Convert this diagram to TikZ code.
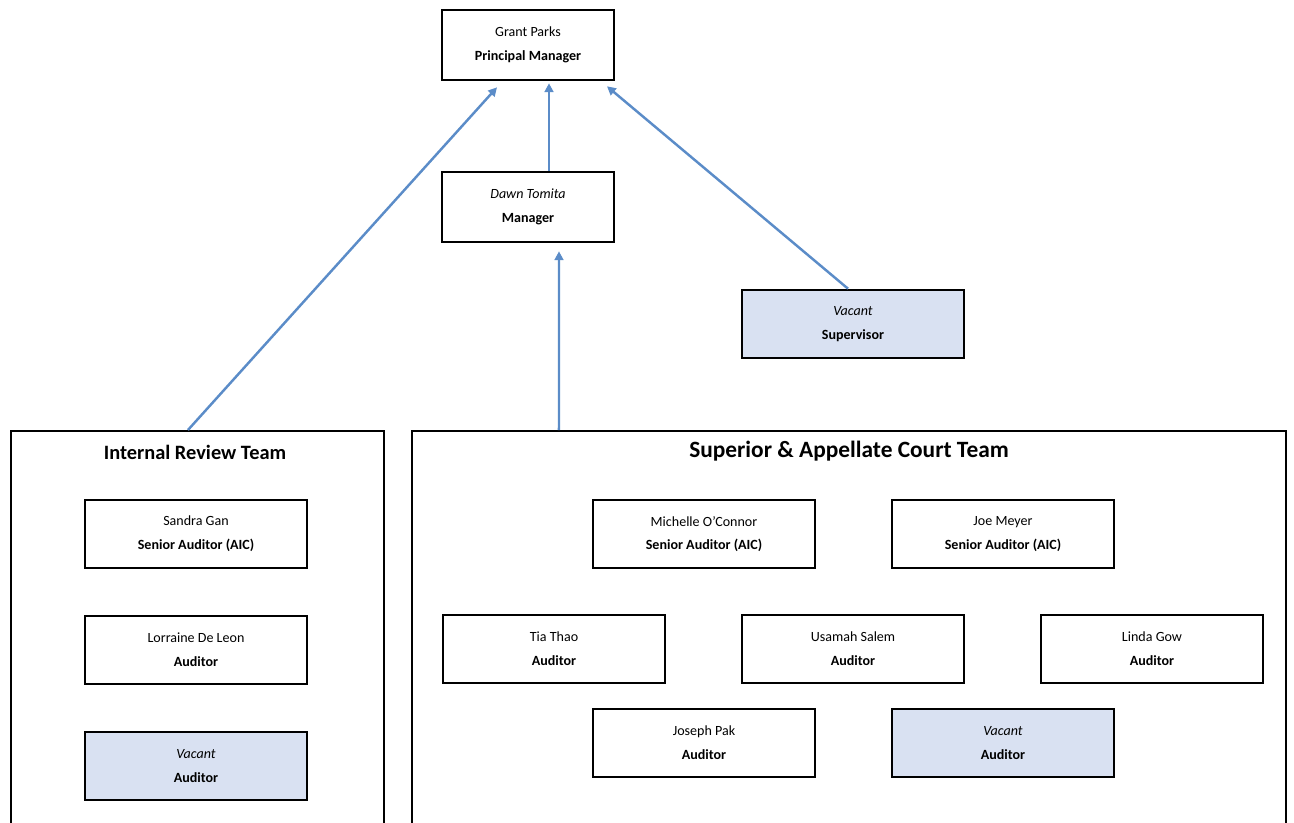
\documentclass[tikz,border=0pt]{standalone}
\usepackage{fontspec}
\setmainfont{Carlito}
\usepackage{tikz}
\usetikzlibrary{arrows.meta,positioning}

\definecolor{linkblue}{HTML}{5B8CC8}
\definecolor{vacantfill}{HTML}{D9E1F2}

\begin{document}
\begin{tikzpicture}[x=0.02cm, y=-0.02cm]
                \tikzstyle{post} = [rectangle, draw, line width=1.5pt, fill=white,
                align=center, minimum width=4.44cm, minimum height=1.36cm,
                font=\fontsize{8}{13.5}\selectfont]
                \tikzstyle{toppost} = [post, minimum width=3.44cm, minimum height=1.4cm]
                \tikzstyle{vacant} = [fill=vacantfill]
                \tikzstyle{team} = [rectangle, draw, line width=1.3pt, anchor=north west]
                \tikzstyle{teamtitle} = [font=\bfseries]
                \tikzstyle{link} = [linkblue, line width=1.4pt, -{Triangle[length=5pt,width=5pt]}]

                \useasboundingbox (0,0) rectangle (1294,822);

                % leadership
                \node [toppost] (principal) at (528,45) {Grant Parks\\\textbf{Principal Manager}};
                \node [toppost] (manager) at (528,207) {\textit{Dawn Tomita}\\\textbf{Manager}};
                \node [post, vacant] (supervisor) at (853,324) {\textit{Vacant}\\\textbf{Supervisor}};

                % teams
                \node [team, minimum width=7.46cm, minimum height=8.4cm] (review) at (10,430) {};
                \node [team, minimum width=17.48cm, minimum height=8.4cm] (court) at (411,430) {};
                \node [teamtitle, font=\fontsize{11.6}{14}\selectfont\bfseries] (reviewtitle) at (195,452) {Internal Review Team};
                \node [teamtitle, font=\fontsize{13.3}{16}\selectfont\bfseries] (courttitle) at (849,451) {Superior \& Appellate Court Team};

                % internal review
                \node [post] (sandra) at (196,534) {Sandra Gan\\\textbf{Senior Auditor (AIC)}};
                \node [post] (lorraine) at (196,650) {Lorraine De Leon\\\textbf{Auditor}};
                \node [post, vacant] (vacantone) at (196,766) {\textit{Vacant}\\\textbf{Auditor}};

                % superior & appellate court
                \node [post] (michelle) at (704,534) {Michelle O'Connor\\\textbf{Senior Auditor (AIC)}};
                \node [post] (joe) at (1003,534) {Joe Meyer\\\textbf{Senior Auditor (AIC)}};
                \node [post] (tia) at (554,649) {Tia Thao\\\textbf{Auditor}};
                \node [post] (usamah) at (853,649) {Usamah Salem\\\textbf{Auditor}};
                \node [post] (linda) at (1152,649) {Linda Gow\\\textbf{Auditor}};
                \node [post] (joseph) at (704,743) {Joseph Pak\\\textbf{Auditor}};
                \node [post, vacant] (vacanttwo) at (1003,743) {\textit{Vacant}\\\textbf{Auditor}};

                \draw [link] ([xshift=3.56cm]review.north west) -- ([xshift=-0.62cm,yshift=-0.12cm]principal.south);
                \draw [link] ([xshift=0.42cm]manager.north) -- ([xshift=0.42cm,yshift=-0.04cm]principal.south);
                \draw [link] ([xshift=-0.1cm]supervisor.north) -- ([xshift=1.58cm,yshift=-0.1cm]principal.south);
                \draw [link] ([xshift=2.96cm]court.north west) -- ([xshift=0.62cm,yshift=-0.16cm]manager.south);
            \end{tikzpicture}
\end{document}
